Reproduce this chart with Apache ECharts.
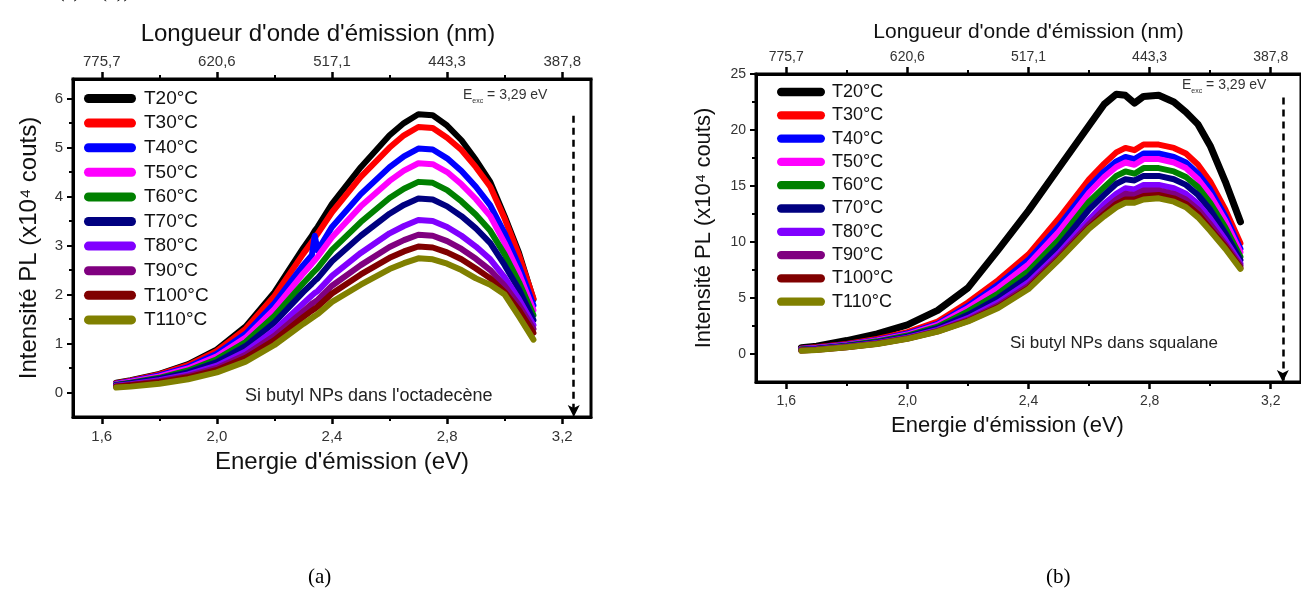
<!DOCTYPE html>
<html>
<head>
<meta charset="utf-8">
<script src="https://cdn.jsdelivr.net/npm/echarts@6/dist/echarts.min.js"></script>
<style>
html, body { margin: 0; padding: 0; background: #fff; }
#main { width: 1301px; height: 589px; }
</style>
</head>
<body>
<div id="main"></div>
<script>
var names = ['T20°C', 'T30°C', 'T40°C', 'T50°C', 'T60°C', 'T70°C', 'T80°C', 'T90°C', 'T100°C', 'T110°C'];
var colors = ['#000000', '#ff0000', '#0000ff', '#ff00ff', '#008000', '#000080', '#8000ff', '#800080', '#800000', '#808000'];

// (a) Si butyl NPs dans l'octadecène
var energyA = [1.65, 1.70, 1.80, 1.90, 2.00, 2.10, 2.20, 2.30, 2.33, 2.34, 2.35, 2.40, 2.50, 2.60, 2.65, 2.70, 2.75, 2.80, 2.85, 2.90, 2.95, 3.00, 3.05, 3.10];
var a20 = [0.20, 0.25, 0.38, 0.58, 0.88, 1.35, 2.05, 2.95, 3.20, 3.30, 3.38, 3.85, 4.60, 5.25, 5.50, 5.68, 5.66, 5.45, 5.15, 4.75, 4.30, 3.60, 2.85, 1.90];
var a30 = [0.19, 0.24, 0.37, 0.56, 0.85, 1.30, 1.97, 2.83, 3.07, 3.16, 3.24, 3.68, 4.40, 5.00, 5.25, 5.42, 5.40, 5.20, 4.95, 4.60, 4.20, 3.55, 2.80, 1.92];
var a40 = [0.18, 0.23, 0.35, 0.52, 0.79, 1.20, 1.82, 2.60, 2.80, 3.20, 2.90, 3.38, 4.05, 4.60, 4.82, 4.98, 4.96, 4.78, 4.52, 4.20, 3.82, 3.25, 2.58, 1.78];
var a50 = [0.17, 0.22, 0.33, 0.49, 0.74, 1.12, 1.70, 2.43, 2.63, 2.70, 2.77, 3.17, 3.80, 4.32, 4.53, 4.68, 4.66, 4.50, 4.25, 3.95, 3.60, 3.05, 2.43, 1.68];
var a60 = [0.16, 0.20, 0.30, 0.45, 0.68, 1.03, 1.56, 2.23, 2.42, 2.48, 2.54, 2.91, 3.48, 3.97, 4.16, 4.30, 4.28, 4.13, 3.90, 3.63, 3.30, 2.82, 2.25, 1.58];
var a70 = [0.15, 0.19, 0.28, 0.41, 0.62, 0.95, 1.43, 2.05, 2.22, 2.28, 2.33, 2.68, 3.20, 3.65, 3.83, 3.96, 3.94, 3.80, 3.60, 3.35, 3.05, 2.60, 2.10, 1.48];
var a80 = [0.14, 0.17, 0.25, 0.37, 0.55, 0.84, 1.27, 1.82, 1.98, 2.03, 2.07, 2.38, 2.85, 3.25, 3.40, 3.52, 3.50, 3.38, 3.20, 2.98, 2.72, 2.35, 1.90, 1.38];
var a90 = [0.13, 0.16, 0.23, 0.34, 0.50, 0.77, 1.16, 1.66, 1.81, 1.85, 1.89, 2.18, 2.60, 2.97, 3.11, 3.22, 3.20, 3.09, 2.93, 2.73, 2.50, 2.18, 1.78, 1.30];
var a100 = [0.12, 0.15, 0.21, 0.31, 0.46, 0.71, 1.07, 1.54, 1.67, 1.71, 1.75, 2.02, 2.41, 2.75, 2.88, 2.98, 2.96, 2.86, 2.72, 2.53, 2.33, 2.05, 1.68, 1.22];
var a110 = [0.10, 0.12, 0.18, 0.27, 0.41, 0.63, 0.97, 1.40, 1.52, 1.56, 1.60, 1.85, 2.20, 2.52, 2.64, 2.74, 2.72, 2.63, 2.50, 2.33, 2.20, 2.00, 1.55, 1.08];

// (b) Si butyl NPs dans squalane
var energyB = [1.65, 1.70, 1.80, 1.90, 2.00, 2.10, 2.20, 2.30, 2.40, 2.50, 2.60, 2.65, 2.69, 2.72, 2.75, 2.78, 2.83, 2.88, 2.92, 2.96, 3.00, 3.05, 3.10];
var b20 = [0.55, 0.70, 1.20, 1.80, 2.60, 3.90, 5.90, 9.30, 12.8, 16.6, 20.4, 22.3, 23.2, 23.1, 22.4, 23.0, 23.1, 22.5, 21.6, 20.5, 18.6, 15.4, 11.8];
var b30 = [0.50, 0.60, 0.90, 1.35, 1.95, 2.90, 4.60, 6.60, 8.90, 12.1, 15.6, 17.0, 18.0, 18.4, 18.2, 18.7, 18.7, 18.4, 17.9, 16.9, 15.4, 12.9, 9.90];
var b40 = [0.47, 0.56, 0.85, 1.26, 1.83, 2.70, 4.30, 6.20, 8.40, 11.4, 14.9, 16.3, 17.2, 17.6, 17.4, 17.9, 17.9, 17.6, 17.1, 16.1, 14.7, 12.3, 9.40];
var b50 = [0.45, 0.53, 0.81, 1.20, 1.74, 2.60, 4.10, 5.90, 8.00, 10.9, 14.4, 15.8, 16.7, 17.1, 16.9, 17.4, 17.4, 17.1, 16.6, 15.6, 14.2, 11.9, 9.10];
var b60 = [0.42, 0.50, 0.76, 1.13, 1.65, 2.45, 3.80, 5.40, 7.40, 10.2, 13.6, 14.9, 15.9, 16.3, 16.1, 16.6, 16.6, 16.3, 15.8, 14.9, 13.5, 11.3, 8.70];
var b70 = [0.38, 0.46, 0.71, 1.06, 1.55, 2.30, 3.50, 5.00, 6.90, 9.60, 12.9, 14.2, 15.2, 15.6, 15.5, 15.9, 15.9, 15.6, 15.1, 14.2, 12.9, 10.8, 8.40];
var b80 = [0.35, 0.42, 0.66, 0.98, 1.45, 2.15, 3.20, 4.60, 6.40, 9.00, 12.0, 13.4, 14.3, 14.8, 14.7, 15.1, 15.1, 14.8, 14.3, 13.4, 12.1, 10.2, 8.10];
var b90 = [0.33, 0.39, 0.63, 0.94, 1.40, 2.07, 3.05, 4.35, 6.10, 8.70, 11.6, 12.9, 13.8, 14.3, 14.2, 14.6, 14.6, 14.3, 13.8, 12.9, 11.6, 9.80, 7.90];
var b100 = [0.31, 0.37, 0.61, 0.91, 1.37, 2.02, 2.95, 4.20, 5.90, 8.50, 11.3, 12.5, 13.4, 13.8, 13.8, 14.1, 14.2, 13.9, 13.4, 12.5, 11.2, 9.60, 7.70];
var b110 = [0.30, 0.35, 0.60, 0.90, 1.35, 2.00, 2.90, 4.10, 5.80, 8.40, 11.2, 12.3, 13.1, 13.5, 13.5, 13.8, 13.9, 13.6, 13.1, 12.2, 11.0, 9.40, 7.60];

// ticks
var energyTicks = [1.6, 2.0, 2.4, 2.8, 3.2];
var energyMinor = [1.8, 2.2, 2.6, 3.0];
var wavelengthLabels = ['775,7', '620,6', '517,1', '443,3', '387,8'];
var yTicksA = [0, 1, 2, 3, 4, 5, 6];
var yMinorA = [0.5, 1.5, 2.5, 3.5, 4.5, 5.5];
var yTicksB = [0, 5, 10, 15, 20, 25];
var yMinorB = [2.5, 7.5, 12.5, 17.5, 22.5];

var seriesA = [a20, a30, a40, a50, a60, a70, a80, a90, a100, a110];
var seriesB = [b20, b30, b40, b50, b60, b70, b80, b90, b100, b110];

var FONT = 'Liberation Sans';

function pairs(xs, ys) {
    return ys.map(function(y, i) { return [xs[i], y]; });
}

function comma(v) {
    return v.toFixed(1).replace('.', ',');
}

function nmLabel(v) {
    for (var i = 0; i < energyTicks.length; i++) {
        if (Math.abs(energyTicks[i] - v) < 1e-6) return wavelengthLabels[i];
    }
    return '';
}

// main axis (line, long ticks, labels)
function xMain(grid, pos, fmt, fs, margin, name, nameSize, nameGap, namePad) {
    return {
        type: 'value', gridIndex: grid, position: pos, min: 1.5, max: 3.3,
        splitLine: { show: false },
        axisLine: { show: true, onZero: false, lineStyle: { color: '#000', width: 3 } },
        axisTick: { show: true, length: 7, customValues: energyTicks, lineStyle: { color: '#000', width: 2.5 } },
        axisLabel: { customValues: energyTicks, formatter: fmt, fontSize: fs, margin: margin, color: '#333', fontFamily: FONT },
        name: name, nameLocation: 'middle', nameGap: nameGap,
        nameTextStyle: { fontSize: nameSize, color: '#111', fontFamily: FONT, padding: namePad }
    };
}

// companion axis for short minor ticks
function minorAxis(grid, pos, min, max, values) {
    return {
        type: 'value', gridIndex: grid, position: pos, min: min, max: max,
        splitLine: { show: false },
        axisLine: { show: false, onZero: false },
        axisLabel: { show: false },
        axisTick: { show: true, length: 4, customValues: values, lineStyle: { color: '#000', width: 2 } }
    };
}

function yMain(grid, min, max, ticks, fs, name, nameSize, nameGap) {
    return {
        type: 'value', gridIndex: grid, position: 'left', min: min, max: max,
        splitLine: { show: false },
        axisLine: { show: true, onZero: false, lineStyle: { color: '#000', width: 3 } },
        axisTick: { show: true, length: 6, customValues: ticks, lineStyle: { color: '#000', width: 2 } },
        axisLabel: { customValues: ticks, fontSize: fs, margin: 10, color: '#333', fontFamily: FONT },
        name: name, nameLocation: 'middle', nameGap: nameGap,
        nameTextStyle: { fontSize: nameSize, color: '#111', fontFamily: FONT }
    };
}

function excArrow(x, top, bottom) {
    return {
        silent: true,
        symbol: ['none', 'arrow'],
        symbolSize: [9, 12],
        label: { show: false },
        lineStyle: { color: '#000', width: 2.5, type: [7, 5] },
        data: [[{ coord: [x, top] }, { coord: [x, bottom] }]]
    };
}

var series = [];
seriesA.forEach(function(vals, i) {
    var s = {
        name: names[i], type: 'line', xAxisIndex: 0, yAxisIndex: 0,
        data: pairs(energyA, vals), symbol: 'none', showSymbol: false,
        itemStyle: { color: colors[i] },
        lineStyle: { color: colors[i], width: 6, cap: 'round', join: 'round' }
    };
    if (i === 0) s.markLine = excArrow(3.24, 5.65, -0.5);
    series.push(s);
});
seriesB.forEach(function(vals, i) {
    var s = {
        name: names[i], type: 'line', xAxisIndex: 4, yAxisIndex: 2,
        data: pairs(energyB, vals), symbol: 'none', showSymbol: false,
        itemStyle: { color: colors[i] },
        lineStyle: { color: colors[i], width: i === 0 ? 7 : 6, cap: 'round', join: 'round' }
    };
    if (i === 0) s.markLine = excArrow(3.24, 22.9, -2.5);
    series.push(s);
});

var pill = 'path://M4.5,0H47.5A4.5,4.5,0,0,1,47.5,9H4.5A4.5,4.5,0,0,1,4.5,0Z';

var myChart = echarts.init(document.querySelector('#main'));
var option = {
    animation: false,
    backgroundColor: '#fff',
    textStyle: { fontFamily: FONT },
    grid: [
        { left: 73, top: 79, width: 518, height: 338, show: true, borderColor: '#000', borderWidth: 3 },
        { left: 756, top: 74, width: 554, height: 308, show: true, borderColor: '#000', borderWidth: 3 }
    ],
    xAxis: [
        xMain(0, 'bottom', comma, 15, 12, "Energie d'émission (eV)", 24, 33, [0, 0, 0, 20]),
        xMain(0, 'top', nmLabel, 15, 10, "Longueur d'onde d'émission (nm)", 24, 33, [0, 28, 0, 0]),
        minorAxis(0, 'bottom', 1.5, 3.3, energyMinor),
        minorAxis(0, 'top', 1.5, 3.3, energyMinor),
        xMain(1, 'bottom', comma, 14, 12, "Energie d'émission (eV)", 22, 33, [0, 42, 0, 0]),
        xMain(1, 'top', nmLabel, 14, 10, "Longueur d'onde d'émission (nm)", 21, 31, [0, 0, 0, 0]),
        minorAxis(1, 'bottom', 1.5, 3.3, energyMinor),
        minorAxis(1, 'top', 1.5, 3.3, energyMinor)
    ],
    yAxis: [
        yMain(0, -0.5, 6.4, yTicksA, 15, 'Intensité PL (x10⁴ couts)', 24, 32),
        minorAxis(0, 'left', -0.5, 6.4, yMinorA),
        yMain(1, -2.5, 25, yTicksB, 14, 'Intensité PL (x10⁴ couts)', 22, 41),
        minorAxis(1, 'left', -2.5, 25, yMinorB)
    ],
    legend: [
        {
            orient: 'vertical', left: 84, top: 88.5, padding: 0, data: names, selectedMode: false,
            icon: pill, itemWidth: 52, itemHeight: 9, itemGap: 4.6,
            textStyle: { fontSize: 19, lineHeight: 20, color: '#111', fontFamily: FONT, padding: [0, 0, 0, 3] }
        },
        {
            orient: 'vertical', left: 777, top: 82.5, padding: 0, data: names, selectedMode: false,
            icon: pill, itemWidth: 48, itemHeight: 9, itemGap: 4.3,
            textStyle: { fontSize: 18, lineHeight: 19, color: '#111', fontFamily: FONT, padding: [0, 0, 0, 2] }
        }
    ],
    graphic: [
        {
            type: 'text', left: 463, top: 88,
            style: {
                text: '{e|E}{s|exc}{e| = 3,29 eV}',
                rich: {
                    e: { fontSize: 14, lineHeight: 20, fill: '#333', fontFamily: FONT },
                    s: { fontSize: 7, lineHeight: 7, verticalAlign: 'bottom', fill: '#333', fontFamily: FONT }
                }
            }
        },
        {
            type: 'text', left: 1182, top: 78,
            style: {
                text: '{e|E}{s|exc}{e| = 3,29 eV}',
                rich: {
                    e: { fontSize: 14, lineHeight: 20, fill: '#333', fontFamily: FONT },
                    s: { fontSize: 7, lineHeight: 7, verticalAlign: 'bottom', fill: '#333', fontFamily: FONT }
                }
            }
        },
        {
            type: 'text', left: 245, top: 387,
            style: { text: "Si butyl NPs dans l'octadecène", fontSize: 18, fill: '#222', fontFamily: FONT }
        },
        {
            type: 'text', left: 1010, top: 335,
            style: { text: 'Si butyl NPs dans squalane', fontSize: 17, fill: '#222', fontFamily: FONT }
        },
        {
            type: 'text', left: 308, top: 567,
            style: { text: '(a)', fontSize: 21, fill: '#000', fontFamily: 'Liberation Serif' }
        },
        {
            type: 'text', left: 1046, top: 567,
            style: { text: '(b)', fontSize: 21, fill: '#000', fontFamily: 'Liberation Serif' }
        },
        {
            type: 'text', left: 58, top: -18,
            style: { text: '(a) – (b))', fontSize: 20, fill: '#000', fontFamily: 'Liberation Serif' }
        }
    ],
    series: series
};
myChart.setOption(option);
</script>
</body>
</html>
